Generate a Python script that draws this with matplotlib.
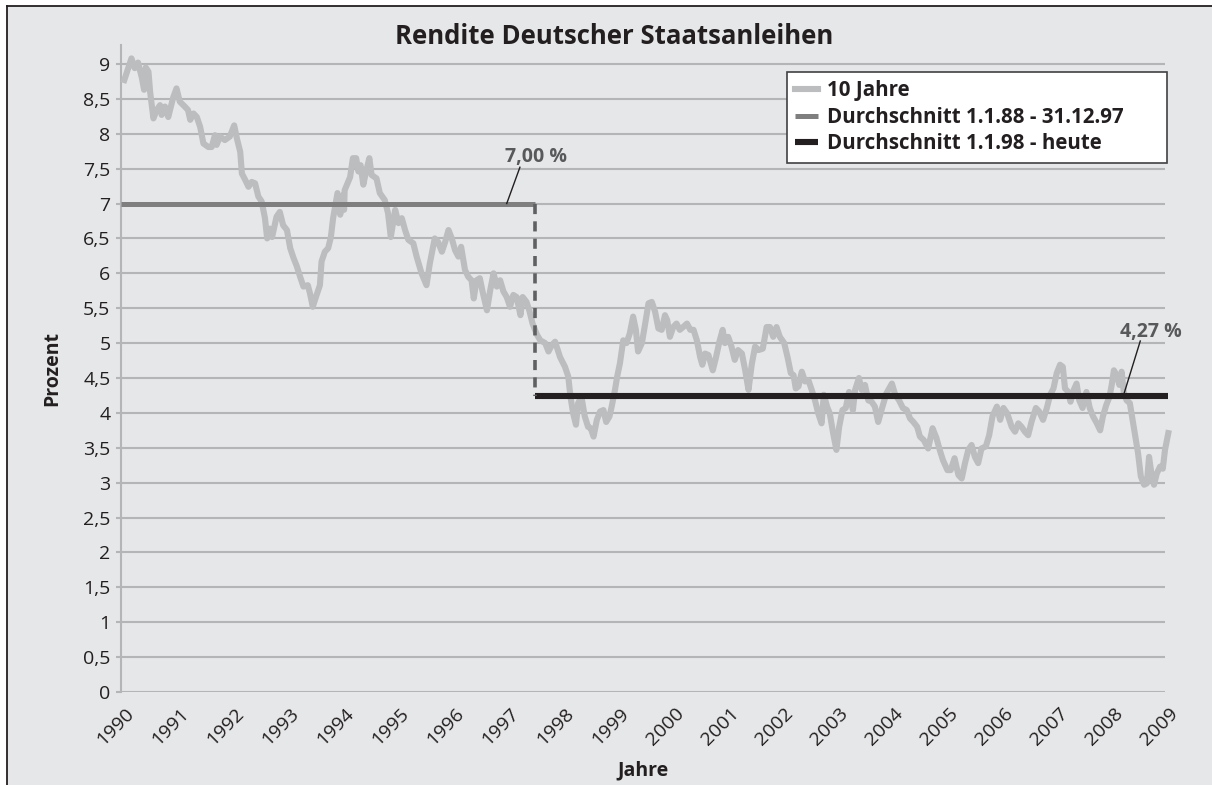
import matplotlib
matplotlib.use("Agg")
import matplotlib.pyplot as plt
from matplotlib.lines import Line2D
from matplotlib.patches import Rectangle
from matplotlib.transforms import ScaledTranslation

plt.rcParams['font.family'] = ['Open Sans', 'DejaVu Sans']

# ---- data ----
years = [
    1990.06, 1990.19, 1990.25, 1990.31, 1990.38, 1990.42, 1990.45, 1990.50, 1990.53, 1990.59,
    1990.65, 1990.71, 1990.74, 1990.80, 1990.86, 1990.95, 1991.01, 1991.07, 1991.16, 1991.22,
    1991.26, 1991.32, 1991.38, 1991.44, 1991.50, 1991.59, 1991.65, 1991.71, 1991.74, 1991.80,
    1991.89, 1991.98, 1992.06, 1992.11, 1992.17, 1992.20, 1992.26, 1992.32, 1992.38, 1992.44,
    1992.50, 1992.56, 1992.62, 1992.66, 1992.71, 1992.75, 1992.83, 1992.89, 1992.95, 1993.02,
    1993.08, 1993.14, 1993.20, 1993.26, 1993.32, 1993.40, 1993.44, 1993.49, 1993.56, 1993.62,
    1993.65, 1993.71, 1993.77, 1993.82, 1993.86, 1993.94, 1993.99, 1994.04, 1994.06, 1994.07,
    1994.17, 1994.22, 1994.28, 1994.32, 1994.36, 1994.41, 1994.46, 1994.52, 1994.56, 1994.65,
    1994.71, 1994.80, 1994.86, 1994.91, 1994.99, 1995.05, 1995.11, 1995.17, 1995.23, 1995.32,
    1995.38, 1995.47, 1995.56, 1995.62, 1995.71, 1995.77, 1995.84, 1995.90, 1995.96, 1996.02,
    1996.08, 1996.14, 1996.19, 1996.26, 1996.32, 1996.38, 1996.42, 1996.47, 1996.53, 1996.58,
    1996.66, 1996.72, 1996.78, 1996.84, 1996.90, 1996.96, 1997.02, 1997.08, 1997.14, 1997.20,
    1997.27, 1997.31, 1997.38, 1997.43, 1997.49, 1997.57, 1997.63, 1997.72, 1997.78, 1997.84,
    1997.90, 1997.99, 1998.08, 1998.14, 1998.18, 1998.23, 1998.28, 1998.32, 1998.38, 1998.44,
    1998.50, 1998.55, 1998.60, 1998.66, 1998.72, 1998.78, 1998.83, 1998.89, 1998.93, 1998.99,
    1999.03, 1999.08, 1999.14, 1999.20, 1999.26, 1999.32, 1999.37, 1999.41, 1999.48, 1999.54,
    1999.60, 1999.66, 1999.72, 1999.78, 1999.84, 1999.90, 1999.94, 1999.99, 2000.05, 2000.11,
    2000.17, 2000.23, 2000.30, 2000.36, 2000.42, 2000.48, 2000.54, 2000.58, 2000.63, 2000.69,
    2000.77, 2000.83, 2000.89, 2000.95, 2000.99, 2001.05, 2001.11, 2001.17, 2001.23, 2001.30,
    2001.36, 2001.42, 2001.48, 2001.54, 2001.60, 2001.68, 2001.75, 2001.81, 2001.87, 2001.93,
    2001.99, 2002.07, 2002.13, 2002.19, 2002.24, 2002.28, 2002.33, 2002.39, 2002.45, 2002.51,
    2002.57, 2002.63, 2002.69, 2002.75, 2002.79, 2002.85, 2002.90, 2002.96, 2003.02, 2003.07,
    2003.13, 2003.19, 2003.25, 2003.32, 2003.36, 2003.43, 2003.48, 2003.54, 2003.60, 2003.66,
    2003.72, 2003.78, 2003.84, 2003.93, 2004.03, 2004.09, 2004.16, 2004.23, 2004.30, 2004.36,
    2004.42, 2004.49, 2004.54, 2004.61, 2004.69, 2004.77, 2004.84, 2004.90, 2004.96, 2005.04,
    2005.10, 2005.17, 2005.24, 2005.30, 2005.36, 2005.42, 2005.48, 2005.54, 2005.60, 2005.66,
    2005.74, 2005.80, 2005.86, 2005.94, 2006.00, 2006.06, 2006.13, 2006.21, 2006.27, 2006.33,
    2006.39, 2006.45, 2006.51, 2006.57, 2006.65, 2006.71, 2006.78, 2006.85, 2006.91, 2006.97,
    2007.03, 2007.09, 2007.14, 2007.18, 2007.24, 2007.28, 2007.34, 2007.39, 2007.44, 2007.50,
    2007.57, 2007.63, 2007.69, 2007.76, 2007.82, 2007.87, 2007.93, 2007.99, 2008.03, 2008.07,
    2008.12, 2008.17, 2008.21, 2008.25, 2008.30, 2008.36, 2008.41, 2008.45, 2008.51, 2008.56,
    2008.62, 2008.67, 2008.71, 2008.76, 2008.80, 2008.85, 2008.91, 2008.96, 2009.00, 2009.06,
]
rendite_10j = [
    8.77, 9.08, 8.94, 9.02, 8.80, 8.63, 8.95, 8.89, 8.60, 8.22,
    8.34, 8.41, 8.27, 8.39, 8.24, 8.52, 8.65, 8.46, 8.39, 8.34,
    8.20, 8.29, 8.24, 8.10, 7.86, 7.81, 7.81, 7.98, 7.84, 7.96,
    7.91, 7.96, 8.12, 7.93, 7.74, 7.43, 7.34, 7.24, 7.31, 7.29,
    7.10, 7.03, 6.79, 6.50, 6.64, 6.52, 6.81, 6.88, 6.69, 6.62,
    6.36, 6.22, 6.10, 5.95, 5.81, 5.83, 5.71, 5.52, 5.69, 5.83,
    6.17, 6.31, 6.36, 6.52, 6.79, 7.15, 6.84, 7.12, 6.91, 7.19,
    7.38, 7.65, 7.65, 7.46, 7.55, 7.27, 7.46, 7.65, 7.41, 7.36,
    7.15, 7.05, 6.86, 6.52, 6.91, 6.72, 6.79, 6.62, 6.48, 6.43,
    6.24, 6.00, 5.83, 6.14, 6.50, 6.45, 6.31, 6.45, 6.62, 6.50,
    6.33, 6.24, 6.38, 6.05, 5.95, 5.90, 5.64, 5.90, 5.93, 5.74,
    5.47, 5.76, 6.00, 5.81, 5.90, 5.74, 5.66, 5.52, 5.69, 5.66,
    5.40, 5.66, 5.59, 5.47, 5.28, 5.12, 5.04, 5.00, 4.88, 4.97,
    5.02, 4.80, 4.66, 4.52, 4.23, 3.99, 3.83, 4.14, 4.23, 3.95,
    3.80, 3.78, 3.66, 3.90, 4.02, 4.04, 3.87, 3.95, 4.09, 4.33,
    4.52, 4.71, 5.04, 5.00, 5.14, 5.38, 5.19, 4.88, 5.00, 5.28,
    5.57, 5.59, 5.45, 5.21, 5.19, 5.40, 5.33, 5.09, 5.23, 5.28,
    5.19, 5.23, 5.28, 5.19, 5.19, 5.04, 4.80, 4.69, 4.85, 4.83,
    4.61, 4.80, 5.02, 5.19, 5.00, 5.09, 4.95, 4.76, 4.90, 4.85,
    4.61, 4.33, 4.70, 4.95, 4.90, 4.92, 5.23, 5.23, 5.09, 5.23,
    5.09, 5.00, 4.80, 4.57, 4.54, 4.35, 4.38, 4.59, 4.45, 4.47,
    4.33, 4.18, 3.99, 3.85, 4.26, 4.09, 3.99, 3.71, 3.47, 3.80,
    4.04, 4.07, 4.30, 4.04, 4.33, 4.50, 4.33, 4.40, 4.18, 4.16,
    4.09, 3.87, 4.04, 4.28, 4.42, 4.26, 4.18, 4.07, 4.04, 3.92,
    3.87, 3.80, 3.66, 3.61, 3.49, 3.78, 3.64, 3.47, 3.32, 3.18,
    3.18, 3.35, 3.11, 3.06, 3.28, 3.47, 3.54, 3.37, 3.28, 3.49,
    3.52, 3.68, 3.95, 4.09, 3.90, 4.07, 3.99, 3.80, 3.73, 3.85,
    3.80, 3.73, 3.68, 3.87, 4.07, 4.02, 3.90, 4.07, 4.26, 4.35,
    4.57, 4.69, 4.66, 4.35, 4.30, 4.16, 4.33, 4.42, 4.18, 4.07,
    4.30, 4.07, 3.95, 3.85, 3.75, 3.95, 4.11, 4.23, 4.40, 4.61,
    4.54, 4.40, 4.59, 4.30, 4.18, 4.14, 3.90, 3.71, 3.42, 3.09,
    2.97, 2.99, 3.37, 3.09, 2.97, 3.13, 3.23, 3.20, 3.47, 3.71,
]

avg1_x = [1990.0, 1997.53]
avg1_y = [7.00, 7.00]
avg2_x = [1997.53, 2009.06]
avg2_y = [4.24, 4.24]
avg1_label = "7,00 %"
avg2_label = "4,27 %"

year_ticks = list(range(1990, 2010))
y_ticks = [0, 0.5, 1, 1.5, 2, 2.5, 3, 3.5, 4, 4.5, 5, 5.5, 6, 6.5, 7, 7.5, 8, 8.5, 9]
y_tick_labels = [("%g" % v).replace(".", ",") for v in y_ticks]

legend_labels = ["10 Jahre", "Durchschnitt 1.1.88 - 31.12.97", "Durchschnitt 1.1.98 - heute"]

# ---- styling ----
BG = "#e6e7e8"
C_SERIES = "#bcbdbf"
C_AVG1 = "#7f7f80"
C_AVG2 = "#231f20"
C_GRID = "#b4b5b7"
C_ANN = "#58595b"
C_TXT = "#231f20"

W, H = 1212, 785
fig = plt.figure(figsize=(W / 100, H / 100), dpi=100)
fig.patch.set_facecolor("white")
fig.patches.append(Rectangle((7 / W, 0), 1 - 7 / W, 1 - 6 / H, transform=fig.transFigure,
                             facecolor=BG, edgecolor="none", zorder=-10))
fig.lines.append(Line2D([7 / W, 7 / W], [0, 1 - 6 / H], transform=fig.transFigure,
                        color=C_TXT, lw=1.3))
fig.lines.append(Line2D([7 / W, 1], [1 - 6 / H, 1 - 6 / H], transform=fig.transFigure,
                        color=C_TXT, lw=1.3))

x0, x1 = 121, 1165
ylo_px, yhi_px = 692, 45
ax = fig.add_axes([x0 / W, 1 - ylo_px / H, (x1 - x0) / W, (ylo_px - yhi_px) / H])
ax.set_facecolor(BG)
ax.set_xlim(1990, 2009)
ax.set_ylim(0, (692 - 45) / 69.78)

for s in ["top", "right", "bottom"]:
    ax.spines[s].set_visible(False)
ax.spines["left"].set_color(C_GRID)
ax.spines["left"].set_linewidth(1.5)

ax.set_yticks(y_ticks)
ax.set_yticklabels(y_tick_labels, fontsize=14, color=C_TXT)
ax.tick_params(axis="y", length=3.6, width=1.5, color=C_GRID, pad=4)
ax.grid(axis="y", color=C_GRID, lw=1.5)
ax.set_axisbelow(True)

ax.set_xticks(year_ticks)
ax.set_xticklabels([str(y) for y in year_ticks], rotation=45, ha="right", va="top",
                   rotation_mode="anchor", fontsize=14, color=C_TXT)
ax.tick_params(axis="x", length=0, pad=9)
shift = ScaledTranslation(4 / 100, 0, fig.dpi_scale_trans)
for lbl in ax.get_xticklabels():
    lbl.set_transform(lbl.get_transform() + shift)

ln_series, = ax.plot(years, rendite_10j, color=C_SERIES, lw=4.4, solid_joinstyle="round",
                     clip_on=False, zorder=3)
ln_avg1, = ax.plot(avg1_x, avg1_y, color=C_AVG1, lw=3.6, solid_capstyle="butt", zorder=4,
                   clip_on=False)
ln_avg2, = ax.plot(avg2_x, avg2_y, color=C_AVG2, lw=4.4, solid_capstyle="butt", zorder=4,
                   clip_on=False)
ax.plot([avg1_x[1], avg1_x[1]], [avg1_y[1], avg2_y[0]], color="#5f6062", lw=2.6,
        linestyle=(0, (2.8, 2.0)), zorder=4)

# annotations with leader lines
ax.plot([1997.02, 1997.26], [7.0, 7.52], color=C_TXT, lw=1.0, zorder=5)
ax.text(1997.55, 7.66, avg1_label, fontsize=14, fontweight="bold", color=C_ANN,
        ha="center", va="center", zorder=5)
ax.plot([2008.24, 2008.55], [4.24, 5.03], color=C_TXT, lw=1.0, zorder=5, clip_on=False)
ax.text(2008.75, 5.16, avg2_label, fontsize=14, fontweight="bold", color=C_ANN,
        ha="center", va="center", zorder=5, clip_on=False)

ax.set_ylabel("Prozent", fontsize=14, fontweight="bold", color=C_TXT, labelpad=15)
ax.set_xlabel("Jahre", fontsize=14, fontweight="bold", color=C_TXT, labelpad=8)
fig.text(614 / W, 1 - 36 / H, "Rendite Deutscher Staatsanleihen", fontsize=18.5,
         fontweight="bold", color=C_TXT, ha="center", va="center")

lx0 = (787 - x0) / (x1 - x0)
lw_ = (1167 - 787) / (x1 - x0)
ly1 = (692 - 72) / (692 - 45)
leg = ax.legend([ln_series, ln_avg1, ln_avg2], legend_labels, loc="upper left",
                bbox_to_anchor=(lx0, ly1 - 0.2, lw_, 0.2), mode="expand",
                frameon=True, fancybox=False, framealpha=1.0, fontsize=14.8,
                handlelength=1.1, handletextpad=0.45, borderpad=0.4, labelspacing=0.27,
                borderaxespad=0)
leg.get_frame().set_edgecolor("#414042")
leg.get_frame().set_linewidth(1.2)
leg.get_frame().set_facecolor("white")
for t in leg.get_texts():
    t.set_fontweight("bold")
    t.set_color(C_TXT)

fig.savefig("out.png", dpi=100, facecolor=fig.get_facecolor())
